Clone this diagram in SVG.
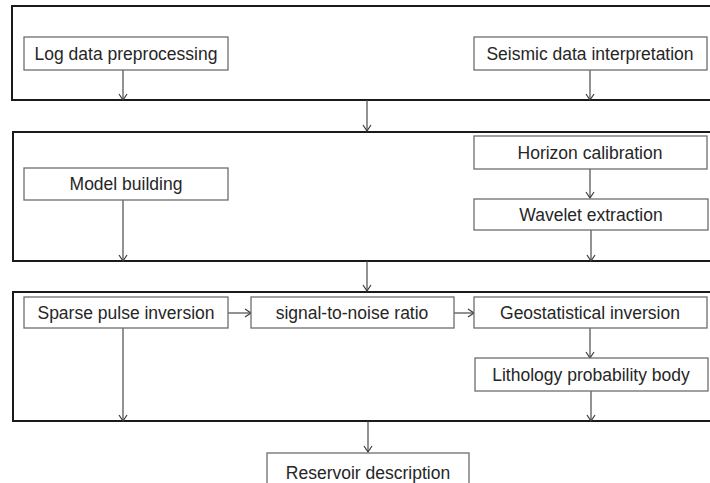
<svg xmlns="http://www.w3.org/2000/svg" width="710" height="483" viewBox="0 0 710 483">
<style>
.frame{fill:none;stroke:#1a1a1a;stroke-width:2}
.box{fill:#fff;stroke:#6e6e6e;stroke-width:1.3}
.lbl{font-family:"Liberation Sans",Arial,sans-serif;font-size:17.5px;fill:#262626;text-anchor:middle}
.conn{fill:none;stroke:#4a4a4a;stroke-width:1.2;marker-end:url(#arr)}
</style>
<defs>
<marker id="arr" markerWidth="10" markerHeight="10" refX="7" refY="5" orient="auto" markerUnits="userSpaceOnUse" viewBox="0 0 10 10">
<path d="M1,1 L7,5 L1,9" fill="none" stroke="#3a3a3a" stroke-width="1.2"/>
</marker>
</defs>
<rect width="710" height="483" fill="#fff"/>
<g id="frames">
<rect id="stage1" class="frame" x="12" y="6" width="710" height="94"/>
<rect id="stage2" class="frame" x="13" y="132" width="710" height="129"/>
<rect id="stage3" class="frame" x="13" y="292" width="710" height="129"/>
</g>
<g id="connectors">
<path class="conn" d="M123,70 V100"/>
<path class="conn" d="M590,70 V100"/>
<path class="conn" d="M367,100 V131"/>
<path class="conn" d="M123,200 V261"/>
<path class="conn" d="M590,169 V198"/>
<path class="conn" d="M591,230 V261"/>
<path class="conn" d="M367,261 V291"/>
<path class="conn" d="M228,313 H251"/>
<path class="conn" d="M454,313 H474"/>
<path class="conn" d="M590,328 V358"/>
<path class="conn" d="M591,391 V421"/>
<path class="conn" d="M123,328 V421"/>
<path class="conn" d="M368,421 V452"/>
</g>
<g id="log-data-preprocessing"><rect class="box" x="24" y="37" width="204" height="33"/><text class="lbl" x="126" y="60">Log data preprocessing</text></g>
<g id="seismic-data-interpretation"><rect class="box" x="474" y="37" width="233" height="33"/><text class="lbl" x="590" y="60">Seismic data interpretation</text></g>
<g id="model-building"><rect class="box" x="24" y="168" width="204" height="32"/><text class="lbl" x="126" y="190">Model building</text></g>
<g id="horizon-calibration"><rect class="box" x="474" y="136" width="233" height="33"/><text class="lbl" x="590" y="159">Horizon calibration</text></g>
<g id="wavelet-extraction"><rect class="box" x="474" y="199" width="234" height="31"/><text class="lbl" x="591" y="221">Wavelet extraction</text></g>
<g id="sparse-pulse-inversion"><rect class="box" x="24" y="297" width="204" height="31"/><text class="lbl" x="126" y="319">Sparse pulse inversion</text></g>
<g id="signal-to-noise-ratio"><rect class="box" x="251" y="297" width="203" height="31"/><text class="lbl" x="352" y="319">signal-to-noise ratio</text></g>
<g id="geostatistical-inversion"><rect class="box" x="474" y="297" width="233" height="31"/><text class="lbl" x="590" y="319">Geostatistical inversion</text></g>
<g id="lithology-probability-body"><rect class="box" x="475" y="358" width="233" height="33"/><text class="lbl" x="591" y="381">Lithology probability body</text></g>
<g id="reservoir-description"><rect class="box" x="267" y="453" width="202" height="40"/><text class="lbl" x="368" y="479">Reservoir description</text></g>
</svg>
